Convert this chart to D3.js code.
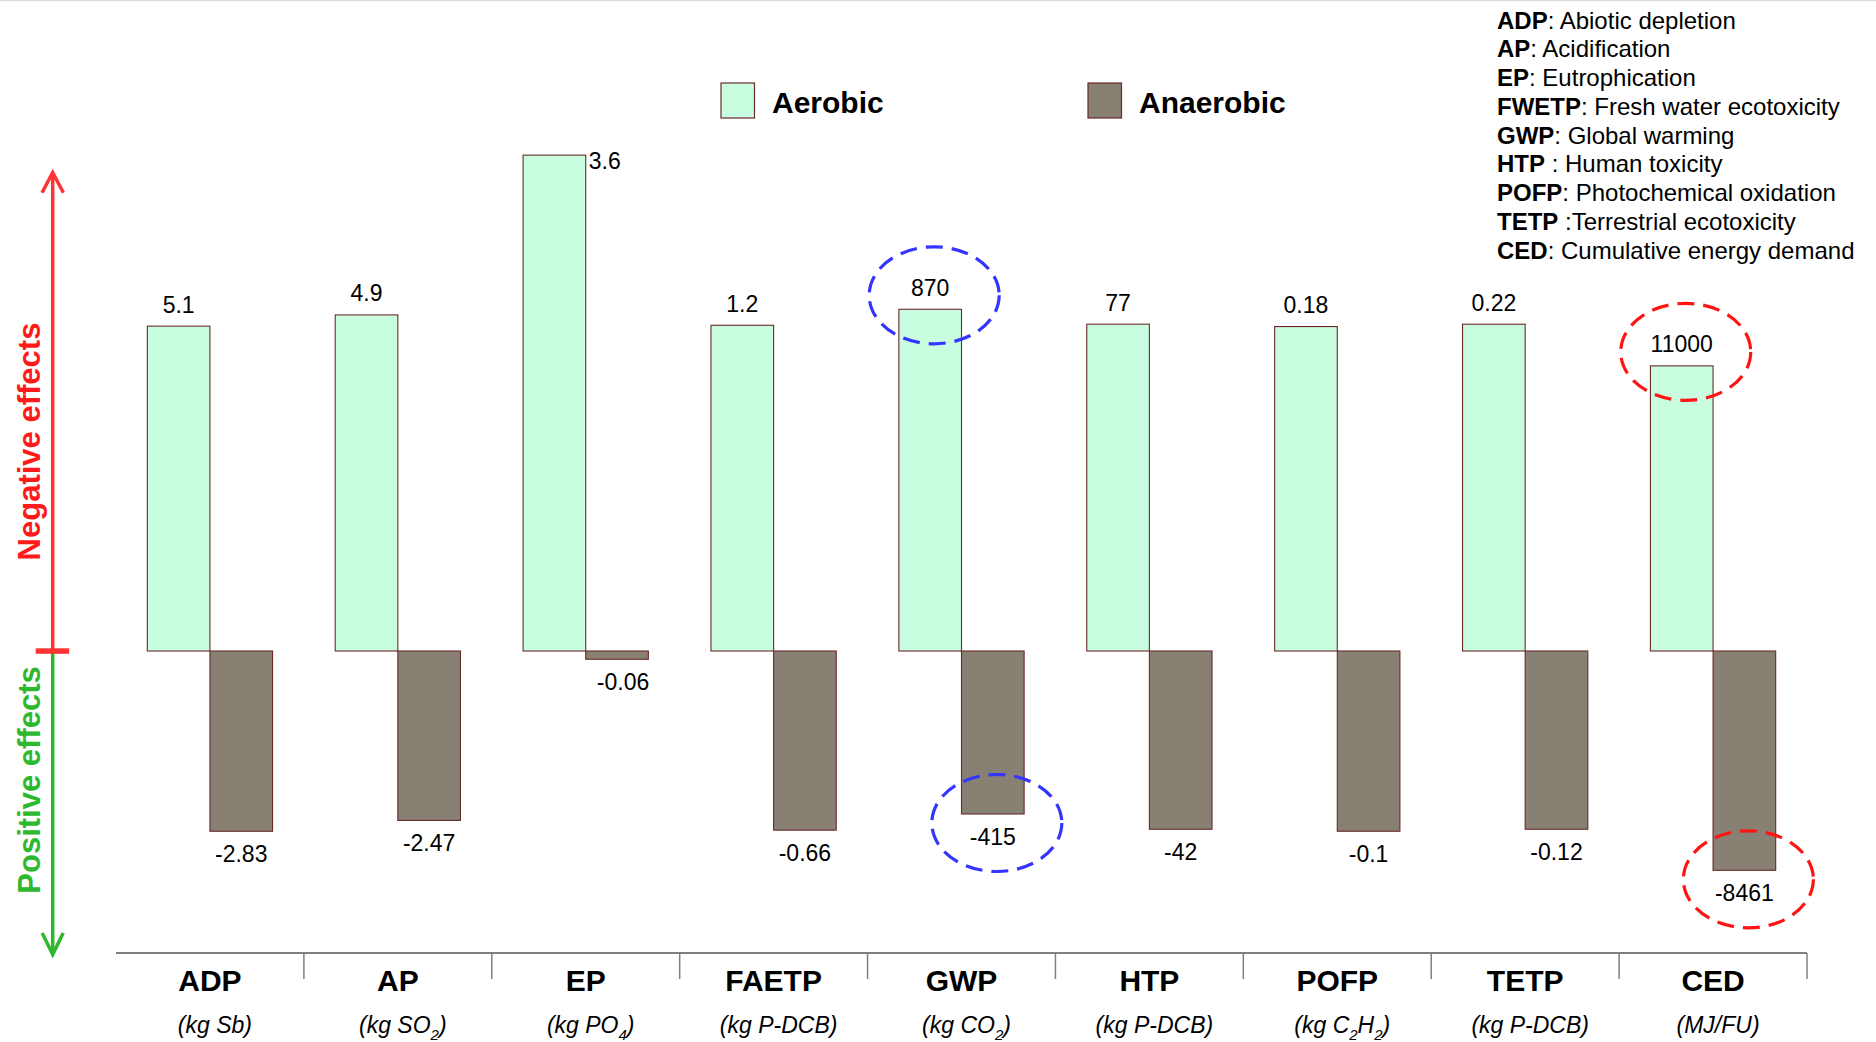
<!DOCTYPE html>
<html>
<head>
<meta charset="utf-8">
<script src="https://cdn.jsdelivr.net/npm/d3@7"></script>
<style>
  html, body { margin: 0; padding: 0; background: #fff; }
  svg { display: block; font-family: "Liberation Sans", Arial, Helvetica, sans-serif; }
</style>
</head>
<body>
<div id="chart"></div>
<script>
// ---------------- data ----------------
const categories = ["ADP", "AP", "EP", "FAETP", "GWP", "HTP", "POFP", "TETP", "CED"];
const units = ["(kg Sb)", "(kg SO_2)", "(kg PO_4)", "(kg P-DCB)", "(kg CO_2)", "(kg P-DCB)", "(kg C_2H_2)", "(kg P-DCB)", "(MJ/FU)"];
const series = ["Aerobic", "Anaerobic"];
const aerobic = [5.1, 4.9, 3.6, 1.2, 870, 77, 0.18, 0.22, 11000];
const anaerobic = [-2.83, -2.47, -0.06, -0.66, -415, -42, -0.1, -0.12, -8461];
// each impact category has its own value axis (different units); value at the top of each axis
const axisMax = [7.85, 7.29, 3.63, 1.842, 1273, 117.8, 0.2774, 0.3366, 19290];
const highlightCategories = ["GWP", "CED"];
const sideLabelCategories = ["EP"];
const defAbbr = ["ADP", "AP", "EP", "FWETP", "GWP", "HTP", "POFP", "TETP", "CED"];
const defText = [": Abiotic depletion", ": Acidification", ": Eutrophication", ": Fresh water ecotoxicity",
  ": Global warming", " : Human toxicity", ": Photochemical oxidation", " :Terrestrial ecotoxicity",
  ": Cumulative energy demand"];
const effectLabels = ["Negative effects", "Positive effects"];

// ---------------- layout & style ----------------
const W = 1876, H = 1042;
const zeroY = 651, topY = 151;
const axisY = 953, tickLen = 26;
const colors = { Aerobic: "#c8fde0", Anaerobic: "#878073" };
const barStroke = "#6a2a2a";
const hlColors = { GWP: "#3434ff", CED: "#ff1414" };
const red = "#ff3333", green = "#2db82d";

const svg = d3.select("#chart").append("svg").attr("width", W).attr("height", H);
svg.append("rect").attr("width", W).attr("height", H).attr("fill", "#fff");
svg.append("line").attr("x1", 0).attr("x2", W).attr("y1", 0.5).attr("y2", 0.5)
  .attr("stroke", "#dcdcdc").attr("stroke-width", 1.5);

const x = d3.scaleBand().domain(categories).range([116, 1807]).padding(0);
const xs = d3.scaleBand().domain(series).range([0, x.bandwidth()]).paddingInner(0).paddingOuter(0.5);
const yScales = axisMax.map(m => d3.scaleLinear().domain([0, m]).range([zeroY, topY]));

const rows = categories.map((c, i) => ({ c, i, Aerobic: aerobic[i], Anaerobic: anaerobic[i] }));

// bars
const g = svg.append("g");
rows.forEach(r => {
  const y = yScales[r.i];
  series.forEach(s => {
    const v = r[s];
    const bx = x(r.c) + xs(s);
    g.append("rect")
      .attr("x", bx).attr("width", xs.bandwidth())
      .attr("y", Math.min(y(v), y(0))).attr("height", Math.abs(y(v) - y(0)))
      .attr("fill", colors[s]).attr("stroke", barStroke).attr("stroke-width", 1.1);
    const t = g.append("text").attr("font-size", 23).attr("fill", "#000").text(String(v));
    if (v >= 0) {
      if (sideLabelCategories.includes(r.c)) {
        t.attr("x", bx + xs.bandwidth() + 3).attr("y", y(v) + 14).attr("text-anchor", "start");
      } else {
        t.attr("x", bx + xs.bandwidth() / 2).attr("y", y(v) - 13.5).attr("text-anchor", "middle");
      }
    } else {
      t.attr("x", bx + xs.bandwidth() / 2 + (sideLabelCategories.includes(r.c) ? 6 : 0))
        .attr("y", y(v) + 31).attr("text-anchor", "middle");
    }
  });
});

// highlight ellipses
highlightCategories.forEach(c => {
  const i = categories.indexOf(c);
  const y = yScales[i];
  series.forEach(s => {
    const v = rows[i][s];
    const cx = x(c) + xs(s) + xs.bandwidth() / 2 + 4;
    const cy = v >= 0 ? y(v) - 14 : y(v) + 9;
    svg.append("ellipse").attr("cx", cx).attr("cy", cy).attr("rx", 65).attr("ry", 48.5)
      .attr("fill", "none").attr("stroke", hlColors[c]).attr("stroke-width", 3.2)
      .attr("stroke-dasharray", "17,9");
  });
});

// category axis
const axisG = svg.append("g");
axisG.append("line").attr("x1", x.range()[0]).attr("x2", x.range()[1]).attr("y1", axisY).attr("y2", axisY)
  .attr("stroke", "#808080").attr("stroke-width", 2);
categories.forEach(c => {
  const xr = x(c) + x.bandwidth();
  axisG.append("line").attr("x1", xr).attr("x2", xr).attr("y1", axisY).attr("y2", axisY + tickLen)
    .attr("stroke", "#808080").attr("stroke-width", 1.5);
});
categories.forEach((c, i) => {
  const cx = x(c) + x.bandwidth() / 2;
  axisG.append("text").attr("x", cx).attr("y", 991).attr("text-anchor", "middle")
    .attr("font-size", 30).attr("font-weight", "bold").text(c);
  const ut = axisG.append("text").attr("x", cx + 5).attr("y", 1033).attr("text-anchor", "middle")
    .attr("font-size", 23).attr("font-style", "italic");
  let shifted = false;
  units[i].split(/(_\d)/).filter(p => p.length).forEach(p => {
    if (p[0] === "_") {
      ut.append("tspan").attr("font-size", 15).attr("dy", 7).text(p.slice(1));
      shifted = true;
    } else {
      ut.append("tspan").attr("dy", shifted ? -7 : 0).text(p);
      shifted = false;
    }
  });
});

// legend
const lg = svg.append("g");
[{ s: "Aerobic", x: 721 }, { s: "Anaerobic", x: 1088 }].forEach(d => {
  lg.append("rect").attr("x", d.x).attr("y", 83).attr("width", 33.5).attr("height", 35)
    .attr("fill", colors[d.s]).attr("stroke", barStroke).attr("stroke-width", 1.2);
  lg.append("text").attr("x", d.x + 51).attr("y", 112.5).attr("font-size", 30)
    .attr("font-weight", "bold").text(d.s);
});

// definitions
const dg = svg.append("g");
defAbbr.forEach((a, i) => {
  const t = dg.append("text").attr("x", 1497).attr("y", 28.5 + i * 28.75).attr("font-size", 24)
    .style("white-space", "pre");
  t.append("tspan").attr("font-weight", "bold").text(a);
  t.append("tspan").text(defText[i]);
});

// effects arrows
const ax = 52.7;
svg.append("line").attr("x1", ax).attr("x2", ax).attr("y1", zeroY).attr("y2", 174)
  .attr("stroke", red).attr("stroke-width", 3.5);
svg.append("path").attr("d", `M${ax - 10.7},192.7 L${ax},172.5 L${ax + 10.7},192.7`)
  .attr("fill", "none").attr("stroke", red).attr("stroke-width", 3.5);
svg.append("line").attr("x1", ax).attr("x2", ax).attr("y1", zeroY + 2).attr("y2", 953)
  .attr("stroke", green).attr("stroke-width", 3.5);
svg.append("path").attr("d", `M${ax - 10.5},933 L${ax},954.5 L${ax + 10.5},933`)
  .attr("fill", "none").attr("stroke", green).attr("stroke-width", 3.5);
svg.append("rect").attr("x", 35.7).attr("y", 648.3).attr("width", 33.5).attr("height", 5.5).attr("fill", red);

svg.append("text").attr("transform", "translate(40,441.5) rotate(-90)").attr("text-anchor", "middle")
  .attr("font-size", 31).attr("font-weight", "bold").attr("fill", "#ff1a1a").text(effectLabels[0]);
svg.append("text").attr("transform", "translate(40,780) rotate(-90)").attr("text-anchor", "middle")
  .attr("font-size", 31).attr("font-weight", "bold").attr("fill", green).text(effectLabels[1]);
</script>
</body>
</html>
